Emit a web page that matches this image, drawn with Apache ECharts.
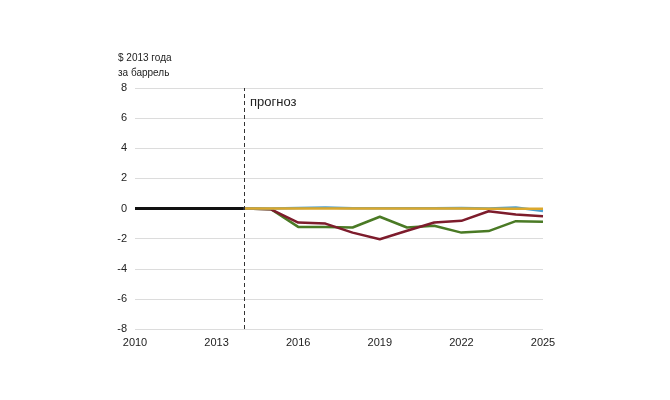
<!DOCTYPE html>
<html><head><meta charset="utf-8">
<script src="https://cdn.jsdelivr.net/npm/echarts@6/dist/echarts.min.js"></script>
<style>html,body{margin:0;padding:0;background:#fff}#c{width:670px;height:400px}</style>
</head><body><div id="c"></div>
<script>
const histYears = [2010, 2011, 2012, 2013, 2014];
const histValues = [0, 0, 0, 0, 0];
const fcYears = [2014, 2015, 2016, 2017, 2018, 2019, 2020, 2021, 2022, 2023, 2024, 2025];
const greenValues = [0, -0.05, -1.22, -1.22, -1.26, -0.55, -1.26, -1.15, -1.6, -1.5, -0.84, -0.88];
const redValues = [0, -0.05, -0.93, -1.0, -1.6, -2.04, -1.48, -0.93, -0.82, -0.18, -0.4, -0.51];
const blueValues = [0, 0, 0.03, 0.06, 0.02, 0.02, 0.02, 0.02, 0.03, 0, 0.06, -0.17];
const yellowValues = [0, 0, 0, 0, 0, 0, 0, 0, 0, -0.02, -0.02, -0.02];
const xTicks = [2010, 2013, 2016, 2019, 2022, 2025];
const yTicks = [-8, -6, -4, -2, 0, 2, 4, 6, 8];
const forecastYear = 2014;
const unitText = '$ 2013 года\nза баррель';
const forecastText = 'прогноз';

const pair = (xs, ys) => xs.map((x, i) => [x, ys[i]]);
const font = 'Liberation Sans, Arial, sans-serif';
const chart = echarts.init(document.getElementById('c'));
const mk = (name, data, color, z) => ({
  name, type: 'line', data, symbol: 'none', z,
  lineStyle: { color, width: 2.5 }, itemStyle: { color }, animation: false
});
chart.setOption({
  animation: false,
  grid: { left: 135, right: 127, top: 88, bottom: 71 },
  xAxis: {
    type: 'value', min: xTicks[0], max: xTicks[xTicks.length - 1], interval: 3,
    axisLine: { show: false }, axisTick: { show: false }, splitLine: { show: false },
    axisLabel: { color: '#222', fontFamily: font, fontSize: 11, margin: 8, formatter: v => String(v) }
  },
  yAxis: {
    type: 'value', min: yTicks[0], max: yTicks[yTicks.length - 1], interval: 2,
    axisLine: { show: false }, axisTick: { show: false },
    splitLine: { lineStyle: { color: '#dcdcdc', width: 1 } },
    axisLabel: { color: '#222', fontFamily: font, fontSize: 11, margin: 8 }
  },
  graphic: [
    { type: 'text', left: 118, top: 51, style: { text: unitText, fontFamily: font, fontSize: 10, fill: '#222', lineHeight: 15 } },
    { type: 'text', left: 250, top: 96, style: { text: forecastText, fontFamily: font, fontSize: 13, fill: '#222' } }
  ],
  series: [
    Object.assign(mk('hist', pair(histYears, histValues), '#111', 5), {
      lineStyle: { color: '#111', width: 3 },
      markLine: {
        silent: true, symbol: 'none', label: { show: false },
        lineStyle: { color: '#333', type: [4, 3], width: 1 },
        data: [{ xAxis: forecastYear }]
      }
    }),
    mk('green', pair(fcYears, greenValues), '#4a7a25', 2),
    mk('red', pair(fcYears, redValues), '#7d1c2c', 3),
    mk('blue', pair(fcYears, blueValues), '#4a9fd0', 3),
    mk('yellow', pair(fcYears, yellowValues), '#dba82c', 4)
  ]
});
</script></body></html>
